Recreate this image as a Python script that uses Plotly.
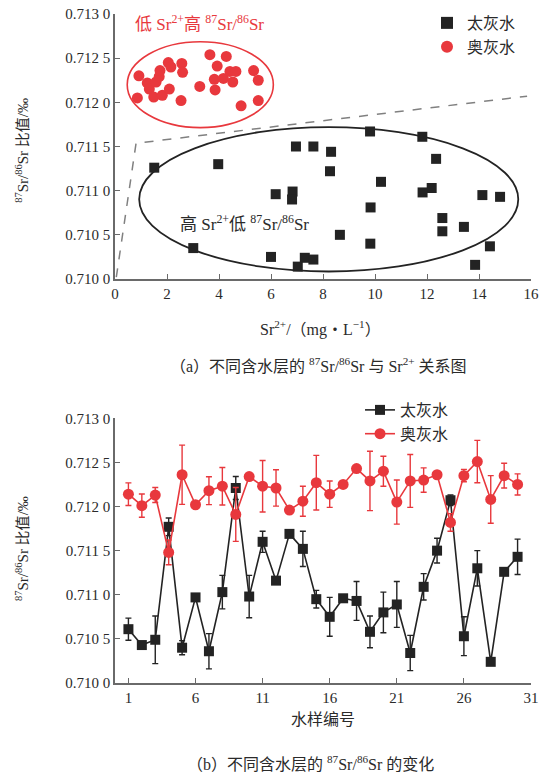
import plotly.graph_objects as go

# ---------------- data: panel (a) ----------------
tai_sr = [1.51, 3.97, 6.96, 7.63, 8.31, 8.27, 6.18, 6.83, 6.81, 3.01, 6.00, 7.30, 7.63, 7.03,
          9.81, 11.82, 12.35, 10.23, 12.18, 11.83, 14.13, 14.81, 9.83, 12.59, 13.42, 12.59,
          8.65, 9.82, 14.42, 13.85]
tai_ratio = [0.71126, 0.71130, 0.71150, 0.71150, 0.71144, 0.71122, 0.71096, 0.71099, 0.71090,
             0.71035, 0.71025, 0.71024, 0.71022, 0.71014, 0.71167, 0.71161, 0.71136, 0.71110,
             0.71103, 0.71098, 0.71095, 0.71093, 0.71081, 0.71069, 0.71059, 0.71054, 0.71050,
             0.71040, 0.71037, 0.71016]
ao_sr = [0.92, 0.86, 1.24, 1.32, 1.49, 1.58, 1.70, 1.73, 1.82, 2.05, 2.15, 2.09, 2.57, 2.60,
         2.54, 3.26, 3.65, 3.93, 3.82, 3.85, 4.17, 4.28, 4.42, 4.65, 4.53, 4.85, 5.33, 5.51, 5.51]
ao_ratio = [0.71230, 0.71205, 0.71222, 0.71215, 0.71206, 0.71223, 0.71229, 0.71236, 0.71208,
            0.71245, 0.71240, 0.71215, 0.71244, 0.71234, 0.71202, 0.71218, 0.71254, 0.71241,
            0.71226, 0.71214, 0.71227, 0.71252, 0.71235, 0.71235, 0.71223, 0.71196, 0.71236,
            0.71225, 0.71202]
boundary_x = [0.05, 0.81, 15.85]
boundary_y = [0.71002, 0.711537, 0.71207]
red_ellipse = [0.47, 6.09, 0.711714, 0.712686]   # x0, x1, y0, y1
black_ellipse = [0.93, 15.51, 0.710085, 0.711719]

# ---------------- data: panel (b) ----------------
sample_no = list(range(1, 31))
tai_b = [0.71061, 0.71043, 0.71049, 0.71177, 0.71040, 0.71097, 0.71036, 0.71103, 0.71221, 0.71098,
         0.71160, 0.71116, 0.71169, 0.71152, 0.71095, 0.71075, 0.71096, 0.71093, 0.71058, 0.71080,
         0.71089, 0.71034, 0.71109, 0.71150, 0.71207, 0.71053, 0.71130, 0.71024, 0.71126, 0.71143]
tai_err = [0.000125, 0.00003, 0.00027, 0.00010, 0.00008, 0.00003, 0.00020, 0.00019, 0.00013, 0.00024,
           0.00012, 0.00004, 0.00002, 0.00020, 0.00010, 0.00022, 0.00003, 0.00022, 0.00018, 0.00023,
           0.00026, 0.00020, 0.00015, 0.00014, 0.00006, 0.00022, 0.00020, 0.0, 0.00003, 0.00020]
ao_b = [0.71214, 0.71201, 0.71213, 0.71148, 0.71236, 0.71202, 0.71218, 0.71223, 0.71191, 0.71234,
        0.71223, 0.71221, 0.71196, 0.71206, 0.71227, 0.71214, 0.71225, 0.71243, 0.71229, 0.71240,
        0.71205, 0.71229, 0.71230, 0.71236, 0.71182, 0.71235, 0.71251, 0.71208, 0.71235, 0.71225]
ao_err = [0.000128, 0.000132, 0.000085, 0.00014, 0.000336, 0.0, 0.000158, 0.000213, 0.000305, 0.0,
          0.000292, 0.000206, 0.0, 0.00017, 0.00031, 0.00015, 0.0, 0.0, 0.000336, 0.00017,
          0.00025, 0.0003, 0.000138, 0.0, 0.0001, 0.00007, 0.00024, 0.00027, 0.00014, 0.00012]

y_ticks = [0.7100, 0.7105, 0.7110, 0.7115, 0.7120, 0.7125, 0.7130]
y_ticktext = ["0.710 0", "0.710 5", "0.711 0", "0.711 5", "0.712 0", "0.712 5", "0.713 0"]
xa_ticks = [0, 2, 4, 6, 8, 10, 12, 14, 16]
xb_ticks = [1, 6, 11, 16, 21, 26, 31]

BLACK = "#232323"
RED = "#e8383d"
AXC = "#6a6a6a"
FONT = "Liberation Serif, Noto Sans CJK SC, serif"

fig = go.Figure()

# panel (a)
fig.add_trace(go.Scatter(x=boundary_x, y=boundary_y, mode="lines", showlegend=False,
                         line=dict(color="#808080", width=1.5, dash="dash"),
                         xaxis="x", yaxis="y", hoverinfo="skip"))
fig.add_trace(go.Scatter(x=tai_sr, y=tai_ratio, mode="markers", name="太灰水",
                         marker=dict(symbol="square", size=10, color=BLACK),
                         xaxis="x", yaxis="y", legend="legend"))
fig.add_trace(go.Scatter(x=ao_sr, y=ao_ratio, mode="markers", name="奥灰水",
                         marker=dict(symbol="circle", size=11, color=RED),
                         xaxis="x", yaxis="y", legend="legend"))

# panel (b)
fig.add_trace(go.Scatter(x=sample_no, y=tai_b, mode="lines+markers", name="太灰水",
                         line=dict(color=BLACK, width=1.6),
                         marker=dict(symbol="square", size=10, color=BLACK),
                         error_y=dict(type="data", array=tai_err, color=BLACK, thickness=1.4, width=3),
                         xaxis="x2", yaxis="y2", legend="legend2"))
fig.add_trace(go.Scatter(x=sample_no, y=ao_b, mode="lines+markers", name="奥灰水",
                         line=dict(color=RED, width=1.6),
                         marker=dict(symbol="circle", size=11, color=RED),
                         error_y=dict(type="data", array=ao_err, color=RED, thickness=1.4, width=3),
                         xaxis="x2", yaxis="y2", legend="legend2"))

axis_common = dict(showline=True, linecolor=AXC, linewidth=1.5, ticks="inside", ticklen=5,
                   tickwidth=1.3, tickcolor=AXC, showgrid=False, zeroline=False,
                   tickfont=dict(family=FONT, size=15, color="#2a2a2a"))

fig.update_layout(
    width=542, height=778,
    margin=dict(l=115, r=11, t=14, b=95, autoexpand=False),
    paper_bgcolor="white", plot_bgcolor="white",
    font=dict(family=FONT, size=15, color="#2a2a2a"),
    xaxis=dict(domain=[0, 1], range=[0, 16], tickvals=xa_ticks, anchor="y", **axis_common),
    yaxis=dict(domain=[0.6039, 1.0], range=[0.7100, 0.7130], tickvals=y_ticks, ticktext=y_ticktext,
               anchor="x", **axis_common),
    xaxis2=dict(domain=[0, 1], range=[0, 31], tickvals=xb_ticks, anchor="y2", **axis_common),
    yaxis2=dict(domain=[0, 0.3957], range=[0.7100, 0.7130], tickvals=y_ticks, ticktext=y_ticktext,
                anchor="x2", **axis_common),
    legend=dict(x=0.75, y=1.012, xanchor="left", yanchor="top", bgcolor="rgba(0,0,0,0)",
                font=dict(family=FONT, size=16, color="#2a2a2a"), tracegroupgap=0, itemsizing="constant"),
    legend2=dict(x=0.589, y=0.4335, xanchor="left", yanchor="top", bgcolor="rgba(0,0,0,0)",
                 font=dict(family=FONT, size=16, color="#2a2a2a"), tracegroupgap=0),
    shapes=[
        dict(type="circle", xref="x", yref="y", x0=red_ellipse[0], x1=red_ellipse[1],
             y0=red_ellipse[2], y1=red_ellipse[3], line=dict(color=RED, width=1.6)),
        dict(type="circle", xref="x", yref="y", x0=black_ellipse[0], x1=black_ellipse[1],
             y0=black_ellipse[2], y1=black_ellipse[3], line=dict(color=BLACK, width=1.8)),
    ],
)

ann = []
ann.append(dict(xref="x", yref="y", x=0.69, y=0.71290, xanchor="left", yanchor="middle",
                text="低 Sr<sup>2+</sup>高 <sup>87</sup>Sr/<sup>86</sup>Sr", showarrow=False,
                font=dict(family=FONT, size=17, color=RED)))
ann.append(dict(xref="x", yref="y", x=2.42, y=0.710636, xanchor="left", yanchor="middle",
                text="高 Sr<sup>2+</sup>低 <sup>87</sup>Sr/<sup>86</sup>Sr", showarrow=False,
                font=dict(family=FONT, size=17, color="#2a2a2a")))
ann.append(dict(xref="paper", yref="paper", x=0.493, y=0.5306, xanchor="center", yanchor="middle",
                text="Sr<sup>2+</sup>/（mg・L<sup>−1</sup>）", showarrow=False,
                font=dict(family=FONT, size=16)))
ann.append(dict(xref="paper", yref="paper", x=0.488, y=0.4753, xanchor="center", yanchor="middle",
                text="（a）不同含水层的 <sup>87</sup>Sr/<sup>86</sup>Sr 与 Sr<sup>2+</sup> 关系图", showarrow=False,
                font=dict(family=FONT, size=16)))
ann.append(dict(xref="paper", yref="paper", x=0.5, y=-0.0553, xanchor="center", yanchor="middle",
                text="水样编号", showarrow=False, font=dict(family=FONT, size=16)))
ann.append(dict(xref="paper", yref="paper", x=0.471, y=-0.1196, xanchor="center", yanchor="middle",
                text="（b）不同含水层的 <sup>87</sup>Sr/<sup>86</sup>Sr 的变化", showarrow=False,
                font=dict(family=FONT, size=16)))
for yy in (0.797, 0.2018):
    ann.append(dict(xref="paper", yref="paper", x=-0.2236, y=yy, xanchor="center", yanchor="middle",
                    text="<sup>87</sup>Sr/<sup>86</sup>Sr 比值/‰", textangle=-90, showarrow=False,
                    font=dict(family=FONT, size=15)))
fig.update_layout(annotations=ann)

fig.write_html("out.html", config={"displayModeBar": False},
               post_script="document.body.style.margin='0';")
